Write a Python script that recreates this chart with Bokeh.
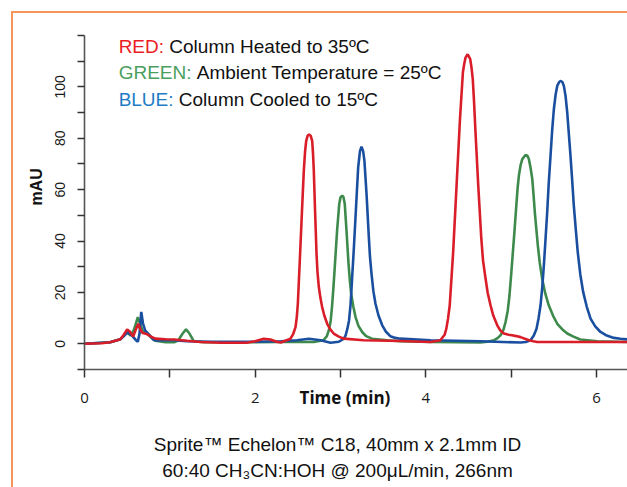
import math
from bokeh.plotting import figure
from bokeh.models import Range1d, FixedTicker, Label, Title
from bokeh.embed import file_html
from bokeh.resources import INLINE

# ---------------- data (time in min, absorbance in mAU) ----------------
red_points = [(0.00, 0.0), (0.20, 0.2), (0.30, 0.6), (0.36, 1.2), (0.42, 1.8), (0.46, 3.5),
              (0.50, 5.6), (0.53, 4.8), (0.57, 2.8), (0.60, 5.5), (0.63, 7.8), (0.655, 5.5),
              (0.68, 4.2), (0.73, 3.8), (0.78, 2.8), (0.83, 2.0), (0.95, 1.8), (1.05, 1.7),
              (1.20, 1.2), (1.36, 0.7), (1.60, 0.4), (1.90, 0.4), (2.00, 1.0), (2.10, 2.0),
              (2.18, 1.7), (2.25, 0.8), (2.30, 0.5), (2.414, 2.0), (2.445, 3.8), (2.473, 6.5),
              (2.488, 10.5), (2.50, 15.6), (2.523, 32.4), (2.547, 50.6), (2.57, 67.4),
              (2.585, 75.0), (2.598, 79.0), (2.615, 81.0), (2.633, 81.4), (2.65, 81.0),
              (2.668, 79.0), (2.678, 74.0), (2.687, 67.4), (2.703, 50.6), (2.719, 35.0),
              (2.73, 28.0), (2.746, 22.1), (2.765, 17.8), (2.785, 14.3), (2.81, 11.0),
              (2.844, 7.8), (2.88, 5.6), (2.92, 4.0), (2.98, 2.8), (3.04, 2.0), (3.27, 1.4),
              (3.70, 1.1), (4.055, 0.7), (4.17, 1.4), (4.22, 3.5), (4.24, 5.9), (4.26, 9.8),
              (4.28, 15.0), (4.32, 35.7), (4.36, 61.6), (4.40, 87.5), (4.434, 105.6),
              (4.45, 109.0), (4.465, 111.4), (4.49, 112.7), (4.52, 110.8), (4.535, 107.5),
              (4.55, 103.0), (4.565, 94.0), (4.58, 83.6), (4.614, 61.6), (4.65, 40.9),
              (4.67, 32.5), (4.70, 25.3), (4.725, 19.8), (4.758, 15.0), (4.79, 11.0),
              (4.837, 7.2), (4.87, 5.3), (4.914, 4.0), (4.96, 3.6), (5.01, 3.3), (5.06, 3.0),
              (5.11, 2.6), (5.16, 2.0), (5.21, 1.4), (5.26, 1.0), (5.305, 0.7), (6.36, 0.7)]

green_points = [(0.00, 0.0), (0.30, 0.6), (0.36, 1.2), (0.42, 1.8), (0.46, 3.0), (0.50, 4.5),
                (0.54, 3.2), (0.58, 5.5), (0.625, 10.4), (0.65, 8.0), (0.68, 5.0), (0.73, 4.3),
                (0.78, 2.5), (0.83, 1.2), (0.95, 0.6), (1.05, 0.6), (1.10, 1.4), (1.15, 4.0),
                (1.19, 5.6), (1.23, 4.0), (1.28, 1.0), (1.40, 0.6), (2.00, 0.6), (2.30, 0.7),
                (2.687, 0.7), (2.80, 1.4), (2.84, 3.0), (2.863, 5.2), (2.885, 9.0), (2.90, 14.3),
                (2.915, 21.0), (2.93, 28.5), (2.96, 44.1), (2.985, 54.4), (3.00, 57.0),
                (3.02, 57.7), (3.035, 57.0), (3.05, 54.4), (3.07, 44.1), (3.094, 31.1),
                (3.11, 24.5), (3.125, 19.5), (3.15, 14.5), (3.176, 10.4), (3.21, 7.0),
                (3.254, 4.6), (3.30, 3.0), (3.37, 2.0), (3.55, 1.4), (3.70, 1.0), (4.055, 0.7),
                (4.64, 0.5), (4.72, 0.8), (4.80, 1.4), (4.84, 2.2), (4.875, 3.3), (4.91, 5.5),
                (4.934, 8.5), (4.96, 13.0), (4.98, 18.8), (5.00, 27.0), (5.02, 35.7),
                (5.04, 44.5), (5.06, 53.8), (5.075, 60.5), (5.09, 65.4), (5.11, 69.5),
                (5.13, 71.9), (5.168, 73.5), (5.19, 73.2), (5.207, 71.9), (5.227, 68.5),
                (5.247, 64.2), (5.262, 58.0), (5.277, 51.2), (5.295, 44.5), (5.312, 38.3),
                (5.335, 31.5), (5.363, 25.3), (5.40, 19.5), (5.44, 15.0), (5.49, 11.0),
                (5.54, 7.8), (5.60, 5.6), (5.657, 4.0), (5.73, 2.8), (5.81, 1.7), (6.01, 1.0),
                (6.36, 0.7)]

blue_points = [(0.00, 0.0), (0.30, 0.6), (0.36, 1.2), (0.42, 1.8), (0.46, 3.0), (0.50, 4.4),
               (0.55, 3.5), (0.60, 1.5), (0.625, 0.8), (0.645, 4.0), (0.665, 12.4), (0.685, 8.0),
               (0.71, 5.2), (0.76, 3.5), (0.81, 1.5), (0.86, 1.3), (0.95, 1.5), (1.05, 1.4),
               (1.20, 1.0), (1.50, 0.8), (2.00, 0.8), (2.30, 1.0), (2.49, 1.4), (2.63, 2.0),
               (2.766, 1.4), (2.883, 0.4), (2.98, 0.8), (3.04, 2.0), (3.06, 3.3), (3.08, 5.8),
               (3.10, 9.1), (3.117, 15.0), (3.13, 22.1), (3.157, 37.6), (3.184, 54.4),
               (3.207, 68.7), (3.228, 75.0), (3.246, 76.7), (3.265, 75.0), (3.28, 71.3),
               (3.305, 58.3), (3.332, 41.5), (3.345, 34.0), (3.363, 27.3), (3.385, 20.5),
               (3.41, 15.6), (3.445, 11.0), (3.489, 7.2), (3.53, 4.8), (3.586, 2.9),
               (3.64, 2.3), (3.70, 2.0), (4.055, 1.4), (4.64, 1.0), (5.11, 0.5), (5.17, 0.7),
               (5.227, 1.4), (5.265, 3.2), (5.297, 5.9), (5.32, 9.8), (5.344, 15.0),
               (5.364, 22.0), (5.383, 30.5), (5.402, 40.5), (5.422, 51.2), (5.44, 62.5),
               (5.461, 73.2), (5.48, 83.0), (5.50, 91.3), (5.52, 96.8), (5.54, 100.4),
               (5.562, 101.9), (5.582, 102.3), (5.60, 101.9), (5.617, 100.4), (5.637, 96.5),
               (5.657, 90.0), (5.675, 82.0), (5.695, 73.2), (5.715, 63.5), (5.734, 53.8),
               (5.757, 44.5), (5.78, 35.7), (5.81, 27.0), (5.844, 20.1), (5.885, 14.5),
               (5.93, 9.8), (5.985, 6.8), (6.047, 4.6), (6.12, 3.2), (6.203, 2.3),
               (6.28, 2.0), (6.36, 1.7)]

x_ticks = [0, 1, 2, 3, 4, 5, 6]
x_tick_labels = ["0", "", "2", "", "4", "", "6"]
y_ticks = [-10, 0, 10, 20, 30, 40, 50, 60, 70, 80, 90, 100, 110, 120]
y_tick_labels = ["", "0", "", "20", "", "40", "", "60", "", "80", "", "100", "", ""]

x_title = "Time (min)"
y_title = "mAU"
legend_keys = ["RED:", "GREEN:", "BLUE:"]
legend_texts = ["Column Heated to 35\u00baC", "Ambient Temperature = 25\u00baC",
                "Column Cooled to 15\u00baC"]
legend_key_colors = ["#EC1C24", "#4A9E5E", "#1E7CC6"]
footer_lines = ["Sprite\u2122 Echelon\u2122 C18, 40mm x 2.1mm ID",
                "60:40 CH\u2083CN:HOH @ 200\u03bcL/min, 266nm"]

NB = "\u00a0"

# ---------------- figure ----------------
p = figure(width=627, height=487, output_backend="svg", toolbar_location=None,
           x_range=Range1d(0, 6.363), y_range=Range1d(-10, 120),
           min_border_left=84, min_border_right=0, min_border_top=35, min_border_bottom=118)
p.styles = {"box-shadow": "inset 11px 11px 0 0 #FFFFFF, inset 13px 13px 0 0 #F4965C"}
p.outline_line_color = None
p.background_fill_color = "white"
p.border_fill_color = None
p.xgrid.visible = False
p.ygrid.visible = False

def unzip(pts):
    pts = sorted(pts)
    return [a for a, b in pts], [b for a, b in pts]

gx, gy = unzip(green_points)
bx, by = unzip(blue_points)
rx, ry = unzip(red_points)
p.line(gx, gy, line_color="#3E8A4C", line_width=2.6)
p.line(bx, by, line_color="#1A4FA0", line_width=2.6)
p.line(rx, ry, line_color="#D91E2A", line_width=2.6)

# axes
axis_col = "#555555"
xa = p.xaxis[0]
xa.ticker = FixedTicker(ticks=x_ticks)
xa.major_label_overrides = dict(zip(x_ticks, x_tick_labels))
xa.minor_tick_line_color = None
xa.major_tick_in = 0
xa.major_tick_out = 8
xa.axis_line_color = axis_col
xa.axis_line_width = 1.6
xa.major_tick_line_color = "#333333"
xa.major_tick_line_width = 1.5
xa.major_label_text_font = "Open Sans"
xa.major_label_text_font_size = "15px"
xa.major_label_text_color = "#1a1a1a"
xa.major_label_standoff = 15
xa.axis_label = x_title + NB * 5
xa.axis_label_text_font = "Open Sans"
xa.axis_label_text_font_style = "bold"
xa.axis_label_text_font_size = "17px"
xa.axis_label_text_color = "#111111"
xa.axis_label_standoff = -20

ya = p.yaxis[0]
ya.ticker = FixedTicker(ticks=y_ticks)
ya.major_label_overrides = dict(zip(y_ticks, y_tick_labels))
ya.minor_tick_line_color = None
ya.major_tick_in = 0
ya.major_tick_out = 7
ya.axis_line_color = axis_col
ya.axis_line_width = 1.6
ya.major_tick_line_color = "#333333"
ya.major_tick_line_width = 1.5
ya.major_label_orientation = "vertical"
ya.major_label_text_font = "Liberation Sans"
ya.major_label_text_font_size = "14px"
ya.major_label_text_color = "#1a1a1a"
ya.major_label_standoff = 12
ya.axis_label = NB * 7 + y_title
ya.axis_label_text_font = "Liberation Sans"
ya.axis_label_text_font_style = "bold"
ya.axis_label_text_font_size = "16px"
ya.axis_label_text_color = "#111111"
ya.axis_label_standoff = 8

# legend (coloured key + black description)
key_widths = [50.7, 78.1, 60.2]
leg_y = [115.6, 105.5, 95.1]
for key, txt, col, w, yy in zip(legend_keys, legend_texts, legend_key_colors, key_widths, leg_y):
    p.add_layout(Label(x=0.40, y=yy, text=key, text_font="Liberation Sans",
                       text_font_size="19px", text_color=col, text_baseline="alphabetic"))
    p.add_layout(Label(x=0.40, y=yy, x_offset=w, text=txt, text_font="Liberation Sans",
                       text_font_size="19px", text_color="#111111",
                       text_baseline="alphabetic"))

# footer (two centred lines under the axis, after a small spacer)
p.add_layout(Title(text=NB, text_font_size="1px", standoff=16), "below")
for line in footer_lines:
    p.add_layout(Title(text=line + NB * 7, align="center", text_font="Liberation Sans",
                       text_font_style="normal", text_font_size="19px",
                       text_color="#111111", standoff=3), "below")

open("out.html", "w").write(file_html(p, INLINE))
